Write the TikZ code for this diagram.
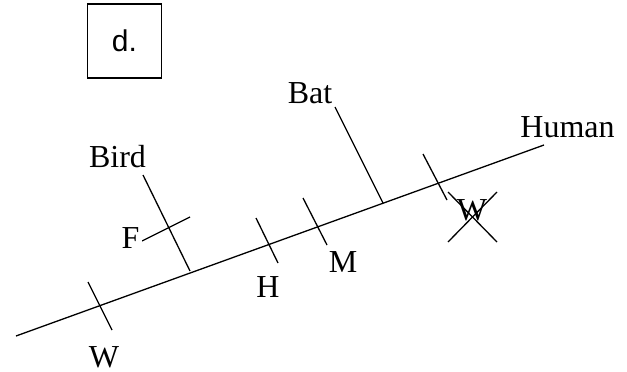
\documentclass[tikz,border=0pt]{standalone}
\usepackage{fontspec}
\setmainfont{Liberation Serif}
\newfontfamily\arialfont{Liberation Sans}
\usepackage{tikz}
\usetikzlibrary{calc}

\begin{document}
\begin{tikzpicture}[
    x=1pt,   % 1 unit = 1 px of the reference
    y=-1pt,  % y grows downwards
    line width=1.3pt,
    taxon/.style={anchor=base, inner sep=1pt, font=\fontsize{32}{36}\selectfont},
    trait/.style={anchor=base, inner sep=3pt, text depth=0pt, fill=white, font=\fontsize{32}{36}\selectfont}
]
    \useasboundingbox (0,0) rectangle (627,372);

    % --- panel label ---
    \node[draw, line width=1.1pt, minimum width=74, minimum height=74, inner sep=0pt,
          font=\arialfont\fontsize{30}{34}\selectfont] (panel) at (124.5,41) {d.\hspace{8pt}};

    % --- main stem (to Human) ---
    \coordinate (root) at (16,336);
    \coordinate (tipHuman) at (544,145);
    \draw (root) -- (tipHuman);
    \node[taxon] (human) at (567.5,137) {Human};

    % --- side branches ---
    \coordinate (forkBird) at (190,271);
    \coordinate (tipBird) at (143,175);
    \draw (forkBird) -- (tipBird);
    \node[taxon] (bird) at (117.5,167) {Bird};

    \coordinate (forkBat) at (383,203);
    \coordinate (tipBat) at (335,107);
    \draw (forkBat) -- (tipBat);
    \node[taxon] (bat) at (310,103) {Bat};

    % --- trait marks (ticks across the branches) ---
    \foreach \name/\ax/\ay/\bx/\by in {W/88/282/112/330, F/142/241/190/217, H/256/218/278/263,
                                       M/303/198/327/245, Wx/423/154/447/200} {
        \coordinate (\name-a) at (\ax,\ay);
        \coordinate (\name-b) at (\bx,\by);
        \draw (\name-a) -- (\name-b);
    }

    % --- trait labels ---
    \node[trait] (wLoss) at (472,220) {W};
    \node[trait] (w) at (104,367) {W};
    \node[trait] (f) at (130.5,248) {F};
    \node[trait] (h) at (268,297) {H};
    \node[trait] (m) at (343,272) {M};

    % --- crossed out W ---
    \coordinate (x1) at (448,192);
    \coordinate (x2) at (497,242);
    \coordinate (x3) at (448,242);
    \coordinate (x4) at (497,192);
    \draw (x1) -- (x2);
    \draw (x3) -- (x4);

\end{tikzpicture}
\end{document}
